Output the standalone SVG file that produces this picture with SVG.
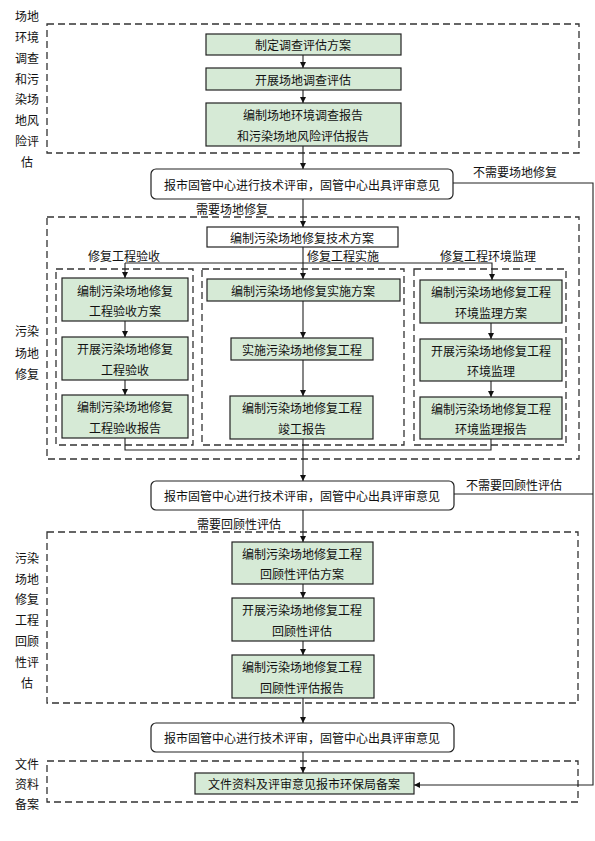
<svg xmlns="http://www.w3.org/2000/svg" width="595" height="841" viewBox="0 0 595 841">
<defs>
<style>
text{font-family:"Noto Sans CJK SC","Liberation Sans",sans-serif;font-size:12px;fill:#111;text-anchor:middle;dominant-baseline:central}
.g{fill:#d6ead6;stroke:#222;stroke-width:1.2}
.w{fill:#fff;stroke:#222;stroke-width:1.2}
.d{fill:none;stroke:#333;stroke-width:1.3;stroke-dasharray:7 4}
.c{fill:none;stroke:#222;stroke-width:1.1}
</style>
<marker id="ah" viewBox="0 0 10 10" refX="10" refY="5" markerWidth="6" markerHeight="6" orient="auto" markerUnits="userSpaceOnUse">
<path d="M0,0 L10,5 L0,10 Z" fill="#111"/>
</marker>
</defs>
<rect width="595" height="841" fill="#fff"/>

<g id="sections">
<rect class="d" x="47" y="24" width="532" height="129"/>
<rect class="d" x="47" y="217" width="532" height="242"/>
<rect class="d" x="56" y="269" width="137" height="176"/>
<rect class="d" x="202" y="269" width="202" height="176"/>
<rect class="d" x="414" y="269" width="152" height="176"/>
<rect class="d" x="47" y="532" width="531" height="171"/>
<rect class="d" x="47" y="761" width="531" height="41"/>
</g>

<g id="side-labels">
<text x="27" y="15">场地</text><text x="27" y="36">环境</text><text x="27" y="57">调查</text><text x="27" y="78">和污</text><text x="27" y="98">染场</text><text x="27" y="119">地风</text><text x="27" y="140">险评</text><text x="27" y="161">估</text>
<text x="27" y="330">污染</text><text x="27" y="352">场地</text><text x="27" y="373">修复</text>
<text x="27" y="557">污染</text><text x="27" y="578">场地</text><text x="27" y="598">修复</text><text x="27" y="619">工程</text><text x="27" y="640">回顾</text><text x="27" y="661">性评</text><text x="27" y="682">估</text>
<text x="27" y="763">文件</text><text x="27" y="783">资料</text><text x="27" y="803">备案</text>
</g>

<g id="connectors">
<line class="c" x1="303" y1="55" x2="303" y2="68" marker-end="url(#ah)"/>
<line class="c" x1="303" y1="90" x2="303" y2="103" marker-end="url(#ah)"/>
<line class="c" x1="303" y1="146" x2="303" y2="169" marker-end="url(#ah)"/>
<line class="c" x1="303" y1="199" x2="303" y2="227" marker-end="url(#ah)"/>
<line class="c" x1="303" y1="247" x2="303" y2="279" marker-end="url(#ah)"/>
<polyline class="c" points="125,263 492,263 492,280" marker-end="url(#ah)"/>
<line class="c" x1="125" y1="263" x2="125" y2="278" marker-end="url(#ah)"/>
<line class="c" x1="125" y1="321" x2="125" y2="337" marker-end="url(#ah)"/>
<line class="c" x1="125" y1="380" x2="125" y2="395" marker-end="url(#ah)"/>
<line class="c" x1="303" y1="301" x2="303" y2="338" marker-end="url(#ah)"/>
<line class="c" x1="303" y1="360" x2="303" y2="396" marker-end="url(#ah)"/>
<line class="c" x1="491" y1="323" x2="491" y2="339" marker-end="url(#ah)"/>
<line class="c" x1="491" y1="381" x2="491" y2="397" marker-end="url(#ah)"/>
<polyline class="c" points="125,438 125,450 491,450 491,439"/>
<line class="c" x1="303" y1="439" x2="303" y2="481" marker-end="url(#ah)"/>
<line class="c" x1="303" y1="510" x2="303" y2="542" marker-end="url(#ah)"/>
<line class="c" x1="303" y1="584" x2="303" y2="598" marker-end="url(#ah)"/>
<line class="c" x1="303" y1="641" x2="303" y2="655" marker-end="url(#ah)"/>
<line class="c" x1="303" y1="698" x2="303" y2="723" marker-end="url(#ah)"/>
<line class="c" x1="303" y1="752" x2="303" y2="773" marker-end="url(#ah)"/>
<polyline class="c" points="453,183 593,183 593,785 414,785" marker-end="url(#ah)"/>
<line class="c" x1="454" y1="494" x2="593" y2="494"/>
<text x="515" y="171">不需要场地修复</text>
<text x="232" y="208">需要场地修复</text>
<text x="124" y="255">修复工程验收</text>
<text x="343" y="255">修复工程实施</text>
<text x="488" y="255">修复工程环境监理</text>
<text x="514" y="484">不需要回顾性评估</text>
<text x="239" y="523">需要回顾性评估</text>
</g>

<g id="n1"><rect class="g" x="206" y="34" width="195" height="21"/><text x="303" y="44.5">制定调查评估方案</text></g>
<g id="n2"><rect class="g" x="206" y="68" width="195" height="22"/><text x="303" y="79">开展场地调查评估</text></g>
<g id="n3"><rect class="g" x="206" y="103" width="195" height="43"/><text x="303" y="114">编制场地环境调查报告</text><text x="303" y="135">和污染场地风险评估报告</text></g>
<g id="r1"><rect class="w" x="151" y="169" width="302" height="30" rx="5"/><text x="302" y="184">报市固管中心进行技术评审，固管中心出具评审意见</text></g>

<g id="n4"><rect class="w" x="207" y="227" width="191" height="20"/><text x="302" y="237">编制污染场地修复技术方案</text></g>
<g id="a1"><rect class="g" x="62" y="278" width="126" height="43"/><text x="125" y="290">编制污染场地修复</text><text x="125" y="310">工程验收方案</text></g>
<g id="a2"><rect class="g" x="62" y="337" width="126" height="43"/><text x="125" y="348">开展污染场地修复</text><text x="125" y="369">工程验收</text></g>
<g id="a3"><rect class="g" x="62" y="395" width="126" height="43"/><text x="125" y="406">编制污染场地修复</text><text x="125" y="427">工程验收报告</text></g>
<g id="b1"><rect class="g" x="207" y="279" width="193" height="22"/><text x="303" y="290">编制污染场地修复实施方案</text></g>
<g id="b2"><rect class="g" x="231" y="338" width="142" height="22"/><text x="302" y="349">实施污染场地修复工程</text></g>
<g id="b3"><rect class="g" x="230" y="396" width="143" height="43"/><text x="302" y="407">编制污染场地修复工程</text><text x="302" y="428">竣工报告</text></g>
<g id="c1"><rect class="g" x="420" y="280" width="142" height="43"/><text x="491" y="291">编制污染场地修复工程</text><text x="491" y="312">环境监理方案</text></g>
<g id="c2"><rect class="g" x="420" y="339" width="142" height="42"/><text x="491" y="350">开展污染场地修复工程</text><text x="491" y="370">环境监理</text></g>
<g id="c3"><rect class="g" x="420" y="397" width="142" height="42"/><text x="491" y="408">编制污染场地修复工程</text><text x="491" y="428">环境监理报告</text></g>

<g id="r2"><rect class="w" x="151" y="481" width="303" height="29" rx="5"/><text x="302" y="495">报市固管中心进行技术评审，固管中心出具评审意见</text></g>
<g id="d1"><rect class="g" x="232" y="542" width="141" height="42"/><text x="302" y="553">编制污染场地修复工程</text><text x="302" y="573">回顾性评估方案</text></g>
<g id="d2"><rect class="g" x="232" y="598" width="142" height="43"/><text x="302" y="609">开展污染场地修复工程</text><text x="302" y="630">回顾性评估</text></g>
<g id="d3"><rect class="g" x="232" y="655" width="142" height="43"/><text x="302" y="666">编制污染场地修复工程</text><text x="302" y="687">回顾性评估报告</text></g>
<g id="r3"><rect class="w" x="151" y="723" width="303" height="29" rx="5"/><text x="302" y="737">报市固管中心进行技术评审，固管中心出具评审意见</text></g>
<g id="e1"><rect class="g" x="195" y="773" width="219" height="21"/><text x="304" y="783.5">文件资料及评审意见报市环保局备案</text></g>
</svg>
